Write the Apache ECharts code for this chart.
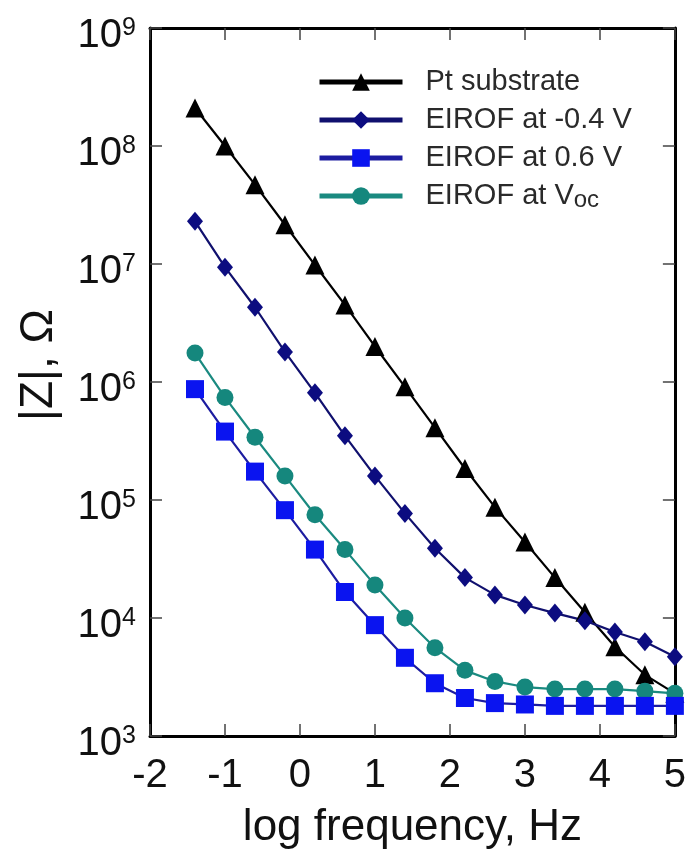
<!DOCTYPE html>
<html>
<head>
<meta charset="utf-8">
<script src="https://cdn.jsdelivr.net/npm/echarts@6/dist/echarts.min.js"></script>
<style>
  html, body { margin: 0; padding: 0; background: #fff; }
  #chart { width: 689px; height: 861px; }
</style>
</head>
<body>
<div id="chart"></div>
<script>
// log10 of frequency (Hz), same for every curve
const logFreq = [-1.4, -1.0, -0.6, -0.2, 0.2, 0.6, 1.0, 1.4, 1.8, 2.2, 2.6, 3.0, 3.4, 3.8, 4.2, 4.6, 5.0]

// |Z| in ohm
const ptSubstrate = [2.1e8, 1.0e8, 4.7e7, 2.15e7, 9.8e6, 4.5e6, 2.0e6, 9.1e5, 4.1e5, 1.85e5, 8.7e4, 4.4e4, 2.2e4, 1.12e4, 5.7e3, 3.3e3, 2.3e3]
const eirofNeg04 = [2.3e7, 9.4e6, 4.3e6, 1.8e6, 8.1e5, 3.5e5, 1.6e5, 7.7e4, 3.9e4, 2.2e4, 1.57e4, 1.29e4, 1.1e4, 9.5e3, 7.6e3, 6.3e3, 4.7e3]
const eirof06 = [8.7e5, 3.8e5, 1.74e5, 8.2e4, 3.8e4, 1.66e4, 8.7e3, 4.6e3, 2.8e3, 2.1e3, 1.9e3, 1.85e3, 1.8e3, 1.8e3, 1.8e3, 1.8e3, 1.8e3]
const eirofVoc = [1.76e6, 7.4e5, 3.4e5, 1.6e5, 7.5e4, 3.8e4, 1.9e4, 1.0e4, 5.6e3, 3.6e3, 2.9e3, 2.6e3, 2.5e3, 2.5e3, 2.5e3, 2.4e3, 2.3e3]

const seriesNames = ['Pt substrate', 'EIROF at -0.4 V', 'EIROF at 0.6 V', 'EIROF at Voc']
const xTicks = [-2, -1, 0, 1, 2, 3, 4, 5]

const FONT = "'Liberation Sans', Arial, sans-serif"

const pairs = vals => logFreq.map((x, i) => [x, vals[i]])

const chart = echarts.init(document.getElementById('chart'))

const boxAxis = {
  axisLine: { show: true, onZero: false, lineStyle: { color: '#000', width: 3 } },
  axisTick: { show: true, inside: true, length: 12, lineStyle: { color: '#444', width: 1.5 } },
  splitLine: { show: false }
}

var option = {
  backgroundColor: '#fff',
  animation: false,
  grid: { left: 150, right: 13, top: 28, bottom: 125, containLabel: false },
  legend: {
    data: seriesNames,
    orient: 'vertical',
    left: 317,
    top: 66,
    padding: 0,
    itemWidth: 83,
    itemHeight: 22,
    itemGap: 6,
    lineStyle: { width: 5 },
    formatter: name => name === 'EIROF at Voc' ? 'EIROF at V{sub|oc}' : name,
    textStyle: {
      fontFamily: FONT,
      fontSize: 29,
      lineHeight: 32,
      color: '#2a2a2a',
      padding: [0, 0, 0, 18],
      rich: {
        sub: { fontFamily: FONT, fontSize: 24, lineHeight: 2, verticalAlign: 'bottom', color: '#2a2a2a' }
      }
    }
  },
  xAxis: [
    Object.assign({}, boxAxis, {
      type: 'value',
      min: xTicks[0],
      max: xTicks[xTicks.length - 1],
      interval: 1,
      position: 'bottom',
      name: 'log frequency, Hz',
      nameLocation: 'middle',
      nameGap: 70,
      nameTextStyle: { fontFamily: FONT, fontSize: 44, color: '#111' },
      axisLabel: { fontFamily: FONT, fontSize: 40, color: '#111', margin: 20 }
    }),
    Object.assign({}, boxAxis, {
      type: 'value',
      min: xTicks[0],
      max: xTicks[xTicks.length - 1],
      interval: 1,
      position: 'top',
      axisLabel: { show: false }
    })
  ],
  yAxis: [
    Object.assign({}, boxAxis, {
      type: 'log',
      logBase: 10,
      min: 1e3,
      max: 1e9,
      position: 'left',
      name: '|Z|, \u03A9',
      nameLocation: 'middle',
      nameRotate: 90,
      nameGap: 88,
      nameTextStyle: { fontFamily: FONT, fontSize: 46, color: '#111', padding: [0, 0, 0, 34] },
      axisLabel: {
        margin: 14,
        padding: [16, 0, 0, 0],
        formatter: v => '{b|10}{s|' + Math.round(Math.log10(v)) + '}',
        rich: {
          b: { fontFamily: FONT, fontSize: 40, lineHeight: 40, verticalAlign: 'bottom', color: '#111' },
          s: { fontFamily: FONT, fontSize: 25, lineHeight: 12, verticalAlign: 'top', color: '#111' }
        }
      }
    }),
    Object.assign({}, boxAxis, {
      type: 'log',
      logBase: 10,
      min: 1e3,
      max: 1e9,
      position: 'right',
      axisLabel: { show: false }
    })
  ],
  series: [
    {
      name: 'Pt substrate',
      type: 'line',
      data: pairs(ptSubstrate),
      symbol: 'triangle',
      symbolSize: 19,
      lineStyle: { color: '#000', width: 2.2 },
      itemStyle: { color: '#000' }
    },
    {
      name: 'EIROF at -0.4 V',
      type: 'line',
      data: pairs(eirofNeg04),
      symbol: 'diamond',
      symbolSize: [16, 19],
      lineStyle: { color: '#10106e', width: 2.2 },
      itemStyle: { color: '#0c0c80' }
    },
    {
      name: 'EIROF at Voc',
      type: 'line',
      data: pairs(eirofVoc),
      symbol: 'circle',
      symbolSize: 17,
      lineStyle: { color: '#1a8a80', width: 2.2 },
      itemStyle: { color: '#15877d' }
    },
    {
      name: 'EIROF at 0.6 V',
      type: 'line',
      data: pairs(eirof06),
      symbol: 'rect',
      symbolSize: 18,
      lineStyle: { color: '#1c1ca0', width: 2.2 },
      itemStyle: { color: '#0a14f0' }
    }
  ]
}

chart.setOption(option)
</script>
</body>
</html>
